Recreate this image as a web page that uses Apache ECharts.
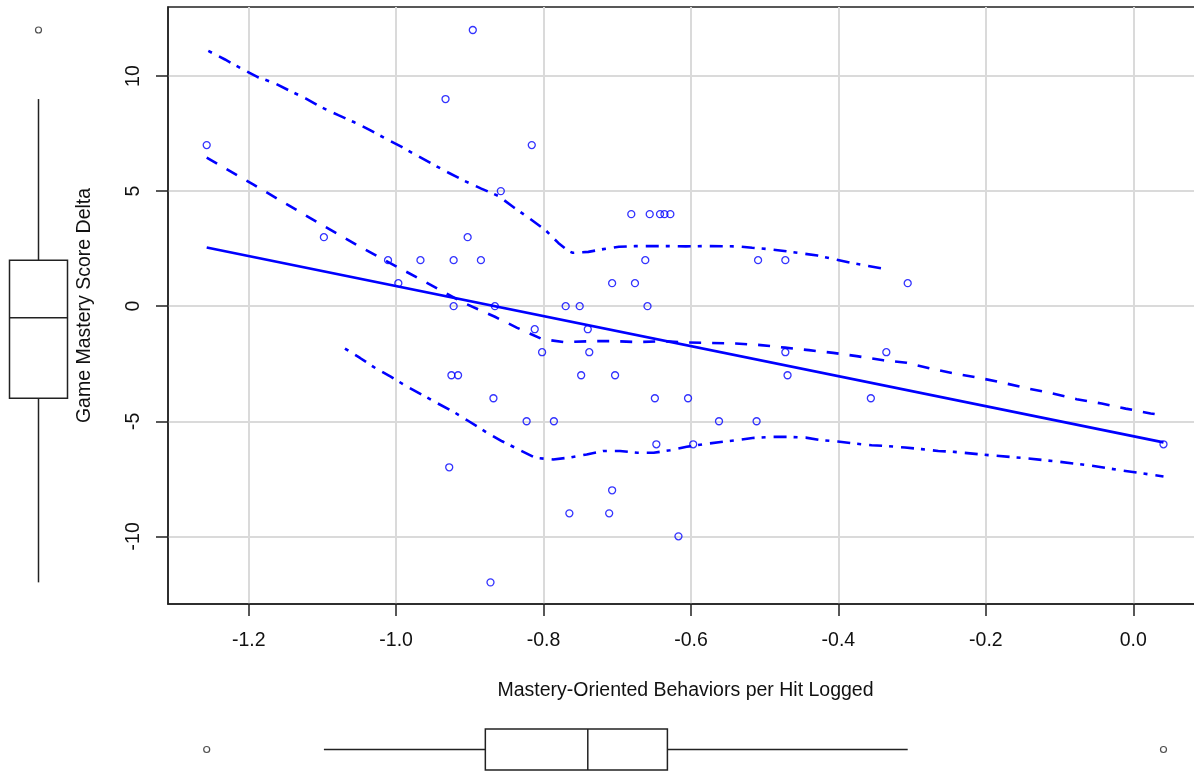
<!DOCTYPE html>
<html><head><meta charset="utf-8">
<script src="https://cdn.jsdelivr.net/npm/echarts@6/dist/echarts.min.js"></script>
<style>html,body{margin:0;padding:0;background:#fff}#c{width:1194px;height:772px}</style>
</head><body><div id="c"></div>
<script>
// ---- data ----
const xTicks = [-1.2, -1.0, -0.8, -0.6, -0.4, -0.2, 0.0];
const xTickLabels = ['-1.2', '-1.0', '-0.8', '-0.6', '-0.4', '-0.2', '0.0'];
const yTicks = [-10, -5, 0, 5, 10];
const yTickLabels = ['-10', '-5', '0', '5', '10'];

const pointsX = [-0.896, -0.933, -1.257, -0.816, -0.858, -1.098, -0.903, -1.011, -0.967, -0.922,
  -0.885, -0.997, -0.922, -0.866, -0.770, -0.751, -0.659, -0.681, -0.656, -0.642,
  -0.636, -0.628, -0.662, -0.509, -0.472, -0.707, -0.676, -0.306, -0.812, -0.740,
  -0.802, -0.738, -0.472, -0.335, -0.925, -0.916, -0.749, -0.703, -0.469, -0.868,
  -0.649, -0.604, -0.356, -0.823, -0.786, -0.562, -0.511, -0.647, -0.597, 0.041,
  -0.928, -0.707, -0.765, -0.711, -0.617, -0.872];
const pointsY = [12, 9, 7, 7, 5, 3, 3, 2, 2, 2,
  2, 1, 0, 0, 0, 0, 0, 4, 4, 4,
  4, 4, 2, 2, 2, 1, 1, 1, -1, -1,
  -2, -2, -2, -2, -3, -3, -3, -3, -3, -4,
  -4, -4, -4, -5, -5, -5, -5, -6, -6, -6,
  -7, -8, -9, -9, -10, -12];

const regX = [-1.257, 0.041];
const regY = [2.55, -5.92];

const smoothX = [-1.257, -1.194, -1.108, -1.049, -0.9905, -0.9317, -0.9066, -0.866, -0.8358, -0.8019,
  -0.772, -0.736, -0.7045, -0.6728, -0.6376, -0.6027, -0.5733, -0.5394, -0.5055, -0.4725,
  -0.440, -0.407, -0.3752, -0.3391, -0.3074, -0.2749, -0.2432, -0.208, -0.1764, -0.1425,
  -0.1099, -0.0768, -0.0429, -0.0103, 0.0236, 0.041];
const smoothY = [6.46, 5.29, 3.67, 2.58, 1.57, 0.55, 0.12, -0.46, -0.94, -1.43,
  -1.56, -1.52, -1.52, -1.56, -1.52, -1.58, -1.60, -1.62, -1.69, -1.80,
  -1.91, -2.03, -2.17, -2.35, -2.46, -2.71, -2.92, -3.12, -3.33, -3.58,
  -3.79, -4.04, -4.23, -4.45, -4.66, -4.75];

const upperX = [-1.2548, -1.2322, -1.2109, -1.1883, -1.1657, -1.143, -1.1223, -1.1006, -1.0784, -1.0567,
  -1.0354, -1.0137, -0.9924, -0.9721, -0.9504, -0.9296, -0.907, -0.8845, -0.8614, -0.8411,
  -0.8207, -0.7972, -0.78, -0.7665, -0.7605, -0.7393, -0.719, -0.6977, -0.676, -0.6533,
  -0.6299, -0.6068, -0.5847, -0.5386, -0.517, -0.4953, -0.4735, -0.4509, -0.4283, -0.4044,
  -0.3821, -0.3595, -0.3369];
const upperY = [11.09, 10.72, 10.34, 9.96, 9.70, 9.34, 9.02, 8.63, 8.30, 7.99,
  7.65, 7.27, 6.92, 6.55, 6.17, 5.81, 5.44, 5.11, 4.79, 4.31,
  3.85, 3.30, 2.75, 2.40, 2.32, 2.36, 2.48, 2.58, 2.61, 2.61,
  2.61, 2.60, 2.61, 2.60, 2.54, 2.48, 2.40, 2.30, 2.20, 2.03,
  1.88, 1.75, 1.62];

const lowerX = [-1.0694, -1.049, -1.0272, -1.0074, -0.988, -0.9658, -0.945, -0.9231, -0.9014, -0.877,
  -0.8562, -0.8336, -0.8109, -0.787, -0.7656, -0.7415, -0.719, -0.6963, -0.6728, -0.6506,
  -0.6285, -0.6058, -0.5833, -0.5597, -0.5366, -0.5141, -0.4919, -0.468, -0.4444, -0.4237,
  -0.401, -0.3776, -0.3549, -0.3324, -0.3097, -0.2871, -0.2645, -0.2428, -0.1967, -0.1514,
  -0.1085, -0.061, -0.0171, 0.0285, 0.041];
const lowerY = [-1.84, -2.25, -2.71, -3.06, -3.44, -3.83, -4.20, -4.57, -5.00, -5.49,
  -5.87, -6.23, -6.59, -6.66, -6.58, -6.44, -6.29, -6.29, -6.37, -6.37,
  -6.26, -6.11, -6.00, -5.90, -5.82, -5.72, -5.68, -5.68, -5.71, -5.82,
  -5.88, -5.97, -6.04, -6.08, -6.14, -6.21, -6.29, -6.33, -6.47, -6.59,
  -6.73, -6.91, -7.13, -7.34, -7.40];

// five-number summaries of the marginal boxplots: [lower whisker, Q1, median, Q3, upper whisker]
const xBoxStats = [-1.098, -0.879, -0.740, -0.632, -0.306];
const xOutliers = [-1.257, 0.041];
const yBoxStats = [-12, -4, -0.5, 2, 9];
const yOutliers = [12];

// ---- chart ----
const FONT = "'Liberation Sans', Arial, sans-serif";
const X_MIN = -1.3095, X_MAX = 0.0946;
const Y_MIN = -12.94, Y_MAX = 13.0;
const zip = (a, b) => a.map((v, i) => [v, b[i]]);
const BLUE = '#0000ff';

function boxItem(horizontal, half) {
  return function (params, api) {
    const cat = api.value(5);
    const p = [0, 1, 2, 3, 4].map(i => horizontal ? api.coord([api.value(i), cat]) : api.coord([cat, api.value(i)]));
    const st = { stroke: '#222', fill: '#fff', lineWidth: 1.5 };
    let ch;
    if (horizontal) {
      const c = p[0][1];
      ch = [
        { type: 'line', shape: { x1: p[0][0], y1: c, x2: p[1][0], y2: c }, style: st },
        { type: 'line', shape: { x1: p[3][0], y1: c, x2: p[4][0], y2: c }, style: st },
        { type: 'rect', shape: { x: p[1][0], y: c - half, width: p[3][0] - p[1][0], height: 2 * half }, style: st },
        { type: 'line', shape: { x1: p[2][0], y1: c - half, x2: p[2][0], y2: c + half }, style: st }
      ];
    } else {
      const c = p[0][0];
      ch = [
        { type: 'line', shape: { x1: c, y1: p[0][1], x2: c, y2: p[1][1] }, style: st },
        { type: 'line', shape: { x1: c, y1: p[3][1], x2: c, y2: p[4][1] }, style: st },
        { type: 'rect', shape: { x: c - half, y: p[3][1], width: 2 * half, height: p[1][1] - p[3][1] }, style: st },
        { type: 'line', shape: { x1: c - half, y1: p[2][1], x2: c + half, y2: p[2][1] }, style: st }
      ];
    }
    return { type: 'group', children: ch };
  };
}

const chart = echarts.init(document.getElementById('c'), null, { renderer: 'canvas' });
const hiddenAxis = { show: false };
chart.setOption({
  animation: false,
  backgroundColor: '#fff',
  textStyle: { fontFamily: FONT },
  grid: [
    { left: 168, top: 7, width: 1035, height: 597, show: true, borderColor: '#222', borderWidth: 1.5, backgroundColor: 'transparent', outerBoundsMode: 'none', containLabel: false },
    { left: 0, top: 7, width: 77, height: 597, outerBoundsMode: 'none', containLabel: false },
    { left: 168, top: 729, width: 1035, height: 41, outerBoundsMode: 'none', containLabel: false }
  ],
  xAxis: [
    {
      type: 'value', gridIndex: 0, min: X_MIN, max: X_MAX,
      axisLine: { show: true, onZero: false, lineStyle: { color: '#222', width: 1.5 } },
      axisTick: { show: true, customValues: xTicks, length: 12, lineStyle: { color: '#222', width: 1.5 } },
      axisLabel: {
        customValues: xTicks, margin: 27, color: '#111', fontSize: 19.5, fontFamily: FONT,
        formatter: v => { const i = xTicks.findIndex(t => Math.abs(t - v) < 1e-6); return i >= 0 ? xTickLabels[i] : ''; }
      },
      splitLine: { show: true, lineStyle: { color: '#dadada', width: 2 } },
      name: 'Mastery-Oriented Behaviors per Hit Logged', nameLocation: 'middle', nameGap: 77,
      nameTextStyle: { color: '#111', fontSize: 19.5, fontFamily: FONT }
    },
    { type: 'category', gridIndex: 1, data: [''], ...hiddenAxis },
    { type: 'value', gridIndex: 2, min: X_MIN, max: X_MAX, ...hiddenAxis }
  ],
  yAxis: [
    {
      type: 'value', gridIndex: 0, min: Y_MIN, max: Y_MAX,
      axisLine: { show: true, onZero: false, lineStyle: { color: '#222', width: 1.5 } },
      axisTick: { show: true, customValues: yTicks, length: 12, lineStyle: { color: '#222', width: 1.5 } },
      axisLabel: {
        customValues: yTicks, rotate: 90, margin: 24, color: '#111', fontSize: 19.5, fontFamily: FONT,
        formatter: v => { const i = yTicks.findIndex(t => Math.abs(t - v) < 1e-6); return i >= 0 ? yTickLabels[i] : ''; }
      },
      splitLine: { show: true, lineStyle: { color: '#dadada', width: 2 } },
      name: 'Game Mastery Score Delta', nameLocation: 'middle', nameGap: 73,
      nameTextStyle: { color: '#111', fontSize: 19.5, fontFamily: FONT }
    },
    { type: 'value', gridIndex: 1, min: Y_MIN, max: Y_MAX, ...hiddenAxis },
    { type: 'category', gridIndex: 2, data: [''], ...hiddenAxis }
  ],
  series: [
    {
      type: 'line', xAxisIndex: 0, yAxisIndex: 0, data: zip(upperX, upperY), showSymbol: false, symbol: 'none',
      lineStyle: { color: BLUE, width: 2.6, type: [4, 8, 13, 7] }, z: 3
    },
    {
      type: 'line', xAxisIndex: 0, yAxisIndex: 0, data: zip(lowerX, lowerY), showSymbol: false, symbol: 'none',
      lineStyle: { color: BLUE, width: 2.6, type: [4, 8, 13, 7] }, z: 3
    },
    {
      type: 'line', xAxisIndex: 0, yAxisIndex: 0, data: zip(smoothX, smoothY), showSymbol: false, symbol: 'none',
      lineStyle: { color: BLUE, width: 2.6, type: [12, 11] }, z: 3
    },
    {
      type: 'line', xAxisIndex: 0, yAxisIndex: 0, data: zip(regX, regY), showSymbol: false, symbol: 'none',
      lineStyle: { color: BLUE, width: 2.8, type: 'solid' }, z: 3
    },
    {
      type: 'scatter', xAxisIndex: 0, yAxisIndex: 0, data: zip(pointsX, pointsY), symbol: 'circle', symbolSize: 7,
      itemStyle: { color: 'rgba(0,0,0,0)', borderColor: BLUE, borderWidth: 1.3 }, z: 4
    },
    {
      type: 'custom', xAxisIndex: 1, yAxisIndex: 1, renderItem: boxItem(false, 29),
      data: [[...yBoxStats, 0]], encode: { x: 5, y: [0, 1, 2, 3, 4] }
    },
    {
      type: 'scatter', xAxisIndex: 1, yAxisIndex: 1, data: yOutliers.map(v => [0, v]), symbol: 'circle', symbolSize: 6,
      itemStyle: { color: 'rgba(0,0,0,0)', borderColor: '#222', borderWidth: 1.2 }
    },
    {
      type: 'custom', xAxisIndex: 2, yAxisIndex: 2, renderItem: boxItem(true, 20.5),
      data: [[...xBoxStats, 0]], encode: { x: [0, 1, 2, 3, 4], y: 5 }
    },
    {
      type: 'scatter', xAxisIndex: 2, yAxisIndex: 2, data: xOutliers.map(v => [v, 0]), symbol: 'circle', symbolSize: 6,
      itemStyle: { color: 'rgba(0,0,0,0)', borderColor: '#222', borderWidth: 1.2 }
    }
  ]
});
</script>
</body></html>
